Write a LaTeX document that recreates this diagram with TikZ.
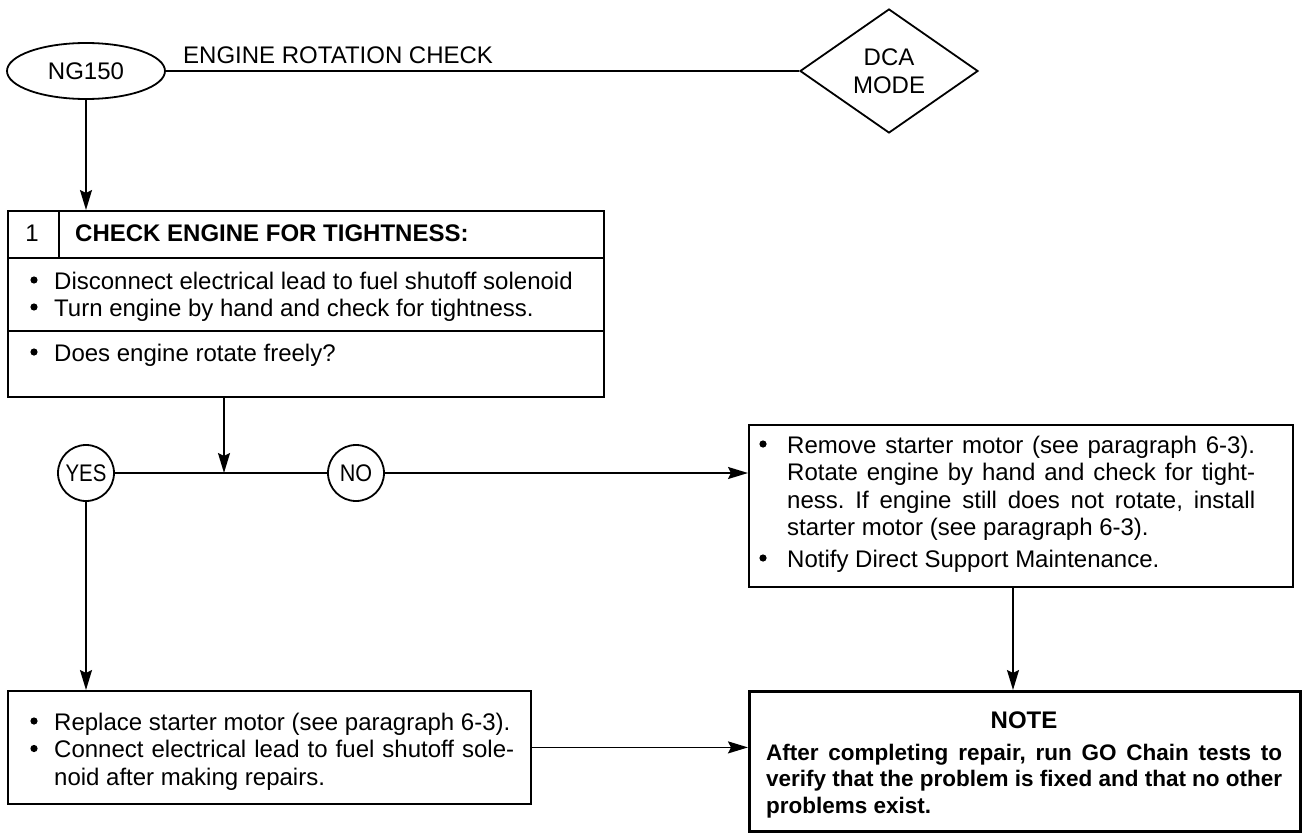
\documentclass[tikz,border=0pt]{standalone}
\usepackage{fontspec}
\setmainfont{Liberation Sans}
\usetikzlibrary{shapes.geometric,arrows.meta}
\frenchspacing
\begin{document}
\begin{tikzpicture}[x=1pt,y=-1pt,
  font=\fontsize{24}{27.5}\selectfont,
  ln/.style={line width=1.8pt},
  arr/.style={ln,-{Stealth[length=20pt,width=12pt,inset=3pt]}},
  box/.style={draw,ln,rectangle,inner sep=0pt,anchor=north west},
  tl/.style={anchor=base west,inner sep=0pt},
  bu/.style={anchor=base,inner sep=0pt},
  bf/.style={font=\fontsize{24}{27.5}\selectfont\bfseries},
  nf/.style={font=\fontsize{22.5}{26}\selectfont\bfseries},
  circ/.style={draw,ln,circle,minimum size=56pt,inner sep=0pt},
  dot/.style={fill=black},
]
\useasboundingbox (0,0) rectangle (1307,835);

% top row
\node[draw,ln,ellipse,minimum width=158pt,minimum height=56pt,inner sep=0pt] (ng) at (86,71) {NG150};
\node[draw,ln,diamond,aspect=1.4,minimum width=178pt,minimum height=124pt,inner sep=0pt,align=center] (dca) at (889,71) {DCA\\MODE};
\draw[ln] (ng.east) -- (dca.west);
\node[tl] (title) at (183,63) {ENGINE ROTATION CHECK};

% box 1
\node[box,minimum width=596pt,minimum height=186pt] (b1) at (7,210) {};
\draw[ln] (b1.west |- 0,258) -- (b1.east |- 0,258);
\draw[ln] (59,210) -- (59,258);
\node[bu] (n1) at (32,241) {1};
\node[tl,bf] (h1) at (75,241) {CHECK ENGINE FOR TIGHTNESS:};
\node[tl] (t11) at (54,289) {Disconnect electrical lead to fuel shutoff solenoid};
\node[tl] (t12) at (54,316) {Turn engine by hand and check for tightness.};
\draw[ln] (b1.west |- 0,331) -- (b1.east |- 0,331);
\node[tl] (t13) at (54,361) {Does engine rotate freely?};
\draw[arr] (ng.south) -- (ng.south |- b1.north);

% decision row
\coordinate (j) at (224,473);
\node[circ] (yes) at (86,473) {\scalebox{0.85}[1]{YES}};
\node[circ] (no) at (356,473) {\scalebox{0.9}[1]{NO}};
\draw[arr] (j |- b1.south) -- (j);
\draw[ln] (yes.east) -- (no.west);

% right box
\node[box,minimum width=544pt,minimum height=162pt] (rb) at (748,424) {};
\draw[arr] (no.east) -- (no.east -| rb.west);
\node[tl] (r1) at (787,453) {\makebox[468pt][s]{Remove starter motor (see paragraph 6-3).}};
\node[tl] (r2) at (787,480.5) {\makebox[468pt][s]{Rotate engine by hand and check for tight-}};
\node[tl] (r3) at (787,508) {\makebox[468pt][s]{ness. If engine still does not rotate, install}};
\node[tl] (r4) at (787,535.5) {starter motor (see paragraph 6-3).};
\node[tl] (r5) at (787,567) {Notify Direct Support Maintenance.};

% left box
\node[box,minimum width=523pt,minimum height=113pt] (lb) at (7,690) {};
\node[tl] (l1) at (54,730) {Replace starter motor (see paragraph 6-3).};
\node[tl] (l2) at (54,757.5) {\makebox[460pt][s]{Connect electrical lead to fuel shutoff sole-}};
\node[tl] (l3) at (54,785) {noid after making repairs.};
\draw[arr] (yes.south) -- (yes.south |- lb.north);

% bullets
\foreach \bx/\by in {34/289,34/316,34/361,763/453,763/567,34/730,34/757.5}
  \fill[dot] (\bx,\by-9) circle (3.6pt);

% note box
\node[draw,line width=3.4pt,rectangle,inner sep=0pt,anchor=north west,minimum width=551pt,minimum height=140pt] (note) at (748,690) {};
\coordinate (k) at (1013,0);
\draw[arr] (lb.east) -- (lb.east -| note.west);
\draw[arr] (k |- rb.south) -- (k |- note.north);
\node[bu,bf] (nt) at (1024,728) {NOTE};
\node[tl,nf] (o1) at (766,760) {\makebox[516pt][s]{After completing repair, run GO Chain tests to}};
\node[tl,nf] (o2) at (766,786.5) {\makebox[516pt][s]{verify that the problem is fixed and that no other}};
\node[tl,nf] (o3) at (766,813) {problems exist.};
\end{tikzpicture}
\end{document}
